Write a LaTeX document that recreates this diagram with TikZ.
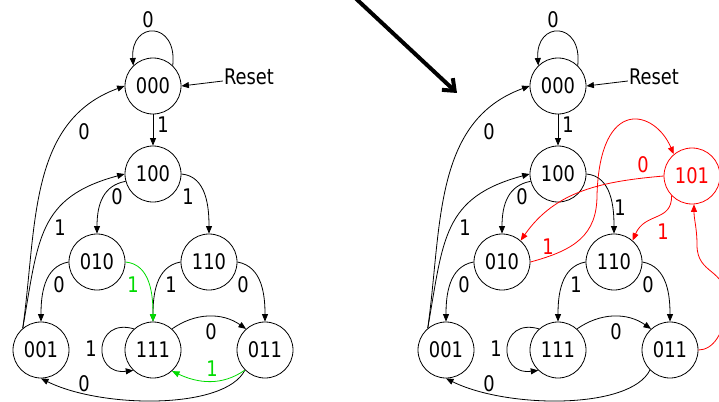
\documentclass[tikz,border=0pt]{standalone}
\usepackage{fontspec}
\setmainfont{DejaVu Sans}[FakeStretch=0.83]
\usetikzlibrary{arrows.meta}
\definecolor{grn}{RGB}{0,220,0}
\definecolor{rd}{RGB}{255,0,0}
\newcommand\fsmcommon{%
  \node[st] (s000) at (153,-86) {000};
  \node[st] (s100) at (153,-174) {100};
  \node[st] (s010) at (97,-262) {010};
  \node[st] (s110) at (209,-262) {110};
  \node[st] (s001) at (41,-350) {001};
  \node[st] (s111) at (153,-350) {111};
  \node[st] (s011) at (265,-350) {011};
  \node[lbl] (reset) at (249,-77) {Reset};
  \draw[ed] (s000.46) .. controls +(5,45) and +(-3,45) .. (s000.134);
  \node[lbl] (l00) at (148,-20) {0};
  \draw[ed] ([xshift=-1pt,yshift=-4pt]reset.west) -- (s000.east);
  \draw[ed] (s000) -- (s100);
  \node[lbl] (l01) at (163,-125) {1};
  \draw[ed] (s001.130) to[out=82,in=200] (s000.west);
  \node[lbl] (l02) at (84,-132) {0};
  \draw[ed] (s001.130) to[out=80,in=195,looseness=1.25] (s100.west);
  \node[lbl] (l03) at (60,-228) {1};
  \draw[ed] (s100.195) .. controls +(-22,-4) and +(0,30) .. (s010.north);
  \node[lbl] (l04) at (117,-197) {0};
  \draw[ed] (s100.east) to[out=-5,in=90] (s110.north);
  \draw[ed] (s010.west) to[out=190,in=90] (s001.north);
  \node[lbl] (l05) at (59,-285) {0};
  \draw[ed] (s110.west) to[out=190,in=90] (s111.north);
  \node[lbl] (l06) at (171,-285) {1};
  \draw[ed] (s110.east) to[out=-10,in=90] (s011.north);
  \node[lbl] (l07) at (243,-285) {0};
  \draw[ed] (s111.132) .. controls +(-40,12) and +(-42,-5) .. (s111.226);
  \node[lbl] (l08) at (91,-349) {1};
  \draw[ed] (s111.48) to[out=35,in=145] (s011.132);
  \node[lbl] (l09) at (211,-332) {0};
  \draw[ed] (s011.225) .. controls +(-20,-40) and +(60,-30) .. (s001.-90);
  \node[lbl] (l10) at (84,-384) {0};
}
\begin{document}
\begin{tikzpicture}[x=1pt,y=1pt,
  st/.style={circle,draw,line width=0.8pt,minimum size=56pt,inner sep=0pt,font=\fontsize{21.5}{25}\selectfont},
  lbl/.style={inner sep=0pt,font=\fontsize{21.5}{25}\selectfont},
  ed/.style={line width=0.8pt,-{Triangle[length=7.5pt,width=6pt]}}]
\useasboundingbox[fill=white] (0,0) rectangle (719,-401);
% left diagram
\begin{scope}[name prefix=L-]
  \fsmcommon
  \node[lbl] (l11) at (188,-197) {1};
  \draw[ed,grn] (s010.east) to[out=-5,in=90] (s111.north);
  \node[lbl,text=grn] (l12) at (133,-285) {1};
  \draw[ed,grn] (s011.225) to[out=215,in=-25] (s111.-48);
  \node[lbl,text=grn] (l13) at (212,-369) {1};
\end{scope}
% right diagram
\begin{scope}[xshift=405pt,name prefix=R-]
  \fsmcommon
  \node[lbl] (l11) at (215,-208) {1};
\end{scope}
% new state
\node[st,draw=rd,text=rd] (s101) at (692,-176) {101};
\draw[ed,rd] (R-s010.east) .. controls (575,-250) and (597,-235) .. (597,-195)
   .. controls (600,-95) and (655,-110) .. (s101.130);
\node[lbl,text=rd] (r1) at (548,-247) {1};
\draw[ed,rd] (s101.west) to[out=185,in=55] (R-s010.49);
\node[lbl,text=rd] (r2) at (643,-165) {0};
\draw[ed,rd] (s101.224) .. controls (672,-222) and (645,-212) .. (R-s110.49);
\node[lbl,text=rd] (r3) at (663,-232) {1};
\draw[ed,rd] (R-s011.east) .. controls (712,-350) and (726,-335) .. (726,-300)
   .. controls (726,-268) and (697,-275) .. (697,-245)
   .. controls (697,-228) and (694,-220) .. (s101.-86);
% big arrow
\coordinate (bA) at (351,6);
\coordinate (bB) at (457,-93);
\draw[line width=4pt,-{Straight Barb[length=10pt,width=16pt]}] (bA) -- (bB);
\end{tikzpicture}
\end{document}
